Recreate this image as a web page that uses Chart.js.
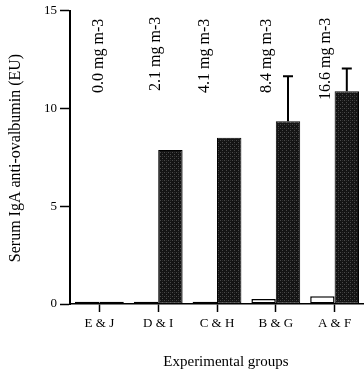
<!DOCTYPE html>
<html>
<head>
<meta charset="utf-8">
<script src="https://cdn.jsdelivr.net/npm/chart.js@4.4.1/dist/chart.umd.min.js"></script>
<style>
  html, body { margin: 0; padding: 0; background: #fff; }
  #wrap { width: 364px; height: 380px; }
</style>
</head>
<body>
<div id="wrap"><canvas id="grafico" width="364" height="380"></canvas></div>
<script>
const grupos = ['E & J', 'D & I', 'C & H', 'B & G', 'A & F'];
const dosis = ['0.0 mg m-3', '2.1 mg m-3', '4.1 mg m-3', '8.4 mg m-3', '16.6 mg m-3'];
const valoresBlancos = [0.12, 0.12, 0.12, 0.25, 0.4];
const valoresOscuros = [0.12, 7.88, 8.5, 9.35, 10.88];
const errorOscuros = [null, null, null, 2.3, 1.17];
const ticksY = [0, 5, 10, 15];

const fuente = "'Liberation Serif', 'Times New Roman', serif";

// textura punteada de las barras oscuras
function crearPatron() {
    const c = document.createElement('canvas');
    c.width = 4; c.height = 4;
    const g = c.getContext('2d');
    g.fillStyle = '#141414';
    g.fillRect(0, 0, 4, 4);
    g.fillStyle = '#4a4a4a';
    g.fillRect(0, 0, 1, 1);
    g.fillRect(2, 2, 1, 1);
    g.fillStyle = '#2e2e2e';
    g.fillRect(2, 0, 1, 1);
    return g.createPattern(c, 'repeat');
}
const patron = crearPatron();

const extras = {
    id: 'extras',
    afterDatasetsDraw(chart) {
        const ctx = chart.ctx;
        const y = chart.scales.y;
        const meta = chart.getDatasetMeta(1);
        ctx.save();
        ctx.strokeStyle = '#000';
        ctx.lineWidth = 2;
        errorOscuros.forEach((e, i) => {
            if (e == null) return;
            const bar = meta.data[i];
            const yTop = y.getPixelForValue(valoresOscuros[i] + e);
            ctx.beginPath();
            ctx.moveTo(bar.x, bar.y);
            ctx.lineTo(bar.x, yTop);
            ctx.moveTo(bar.x - 5, yTop);
            ctx.lineTo(bar.x + 5, yTop);
            ctx.stroke();
        });

        // etiquetas de concentracion, giradas
        const dx = [-1, -2, -12, -9, -9];
        const base = [93, 91, 93, 93, 100];
        ctx.fillStyle = '#000';
        ctx.font = '16px ' + fuente;
        ctx.textAlign = 'left';
        ctx.textBaseline = 'middle';
        dosis.forEach((t, i) => {
            const x = chart.scales.x.getPixelForValue(i) + dx[i];
            ctx.save();
            ctx.translate(x, base[i]);
            ctx.rotate(-Math.PI / 2);
            ctx.fillText(t, 0, 0);
            ctx.restore();
        });

        // titulos de los ejes
        ctx.font = '16px ' + fuente;
        ctx.textAlign = 'center';
        ctx.save();
        ctx.translate(16, 158);
        ctx.rotate(-Math.PI / 2);
        ctx.fillText('Serum IgA anti-ovalbumin (EU)', 0, 0);
        ctx.restore();
        ctx.font = '15px ' + fuente;
        ctx.fillText('Experimental groups', 226, 362);
        ctx.restore();
    }
};

new Chart(document.getElementById('grafico'), {
    type: 'bar',
    data: {
        labels: grupos,
        datasets: [{
            data: valoresBlancos,
            backgroundColor: '#fff',
            borderColor: '#000',
            borderWidth: 1.5,
            borderSkipped: false
        }, {
            data: valoresOscuros,
            backgroundColor: patron,
            borderColor: '#000',
            borderWidth: 1,
            borderSkipped: false
        }]
    },
    options: {
        responsive: false,
        animation: false,
        devicePixelRatio: 1,
        layout: { padding: { top: 9, right: 0, left: 0, bottom: 0 } },
        plugins: {
            legend: { display: false },
            tooltip: { enabled: false }
        },
        datasets: {
            bar: { categoryPercentage: 0.83, barPercentage: 1 }
        },
        scales: {
            x: {
                afterFit(s) { s.height = 76; },
                grid: {
                    offset: false,
                    drawOnChartArea: false,
                    tickLength: 8,
                    tickColor: '#000',
                    tickWidth: 1.5
                },
                border: { color: '#000', width: 1.5 },
                ticks: {
                    color: '#000',
                    padding: 4,
                    font: { size: 13, family: fuente }
                }
            },
            y: {
                min: 0,
                max: 15,
                afterFit(s) { s.width = 70; },
                afterBuildTicks(s) { s.ticks = ticksY.map(v => ({ value: v })); },
                grid: {
                    drawOnChartArea: false,
                    tickLength: 10,
                    tickColor: '#000',
                    tickWidth: 1.5
                },
                border: { color: '#000', width: 2 },
                ticks: {
                    color: '#000',
                    padding: 3,
                    font: { size: 13, family: fuente }
                }
            }
        }
    },
    plugins: [extras]
});
</script>
</body>
</html>
